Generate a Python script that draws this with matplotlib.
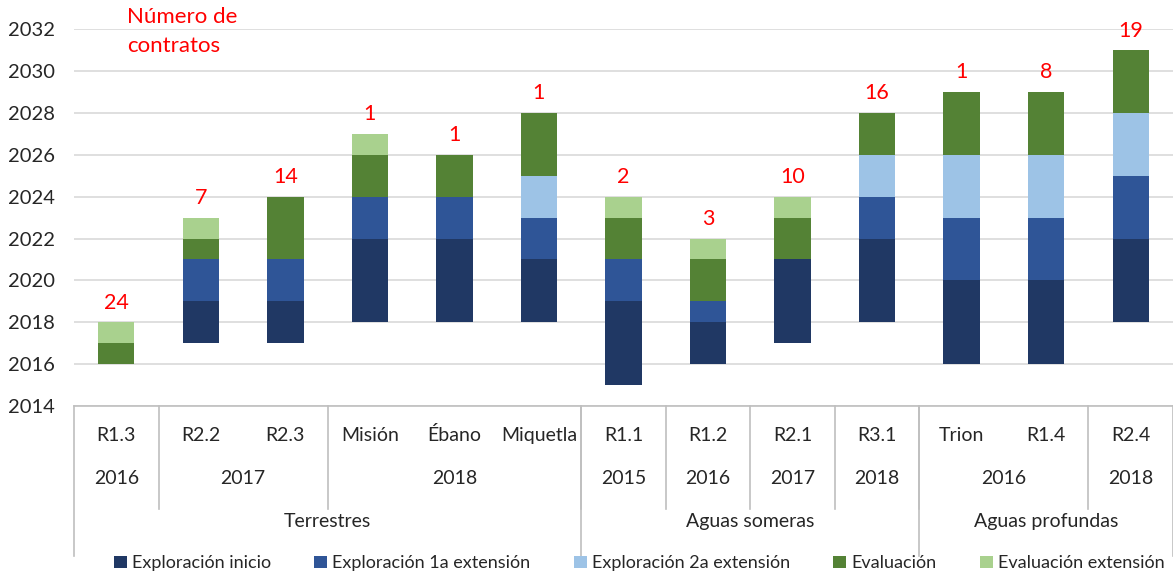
import matplotlib.pyplot as plt
import numpy as np

plt.rcParams['font.family'] = ['Lato', 'DejaVu Sans']

# contract rounds / categories
rondas = ['R1.3', 'R2.2', 'R2.3', 'Misión', 'Ébano', 'Miquetla',
          'R1.1', 'R1.2', 'R2.1', 'R3.1', 'Trion', 'R1.4', 'R2.4']
contratos = [24, 7, 14, 1, 1, 1, 2, 3, 10, 16, 1, 8, 19]

# start year of each bar
inicio = [2016, 2017, 2017, 2018, 2018, 2018, 2015, 2016, 2017, 2018, 2016, 2016, 2018]

# duration (years) of each phase
expl_inicio = [0, 2, 2, 4, 4, 3, 4, 2, 4, 4, 4, 4, 4]
expl_ext1 = [0, 2, 2, 2, 2, 2, 2, 1, 0, 2, 3, 3, 3]
expl_ext2 = [0, 0, 0, 0, 0, 2, 0, 0, 0, 2, 3, 3, 3]
evaluacion = [1, 1, 3, 2, 2, 3, 2, 2, 2, 2, 3, 3, 3]
eval_ext = [1, 1, 0, 1, 0, 0, 1, 1, 1, 0, 0, 0, 0]

fases = ['Exploración inicio', 'Exploración 1a extensión', 'Exploración 2a extensión',
         'Evaluación', 'Evaluación extensión']
colores = ['#203864', '#2F5597', '#9DC3E6', '#548235', '#A9D18E']

# x-axis groups: (label, number of categories)
anios = [('2016', 1), ('2017', 2), ('2018', 3), ('2015', 1), ('2016', 1),
         ('2017', 1), ('2018', 1), ('2016', 2), ('2018', 1)]
grupos = [('Terrestres', 6), ('Aguas someras', 4), ('Aguas profundas', 3)]

fig = plt.figure(figsize=(11.73, 5.76), dpi=100)
ax = fig.add_axes([0.0631, 0.295, 0.9369, 0.6546])

x = np.arange(len(rondas))
bottom = np.array(inicio, dtype=float)
for vals, nombre, c in zip([expl_inicio, expl_ext1, expl_ext2, evaluacion, eval_ext], fases, colores):
    ax.bar(x, vals, 0.43, bottom=bottom, color=c, label=nombre, zorder=3)
    bottom = bottom + np.array(vals)

for xi, top, n in zip(x, bottom, contratos):
    ax.text(xi, top + 0.45, str(n), ha='center', va='bottom', color='red', fontsize=15.5)

ax.set_xlim(-0.5, len(rondas) - 0.5)
ax.set_ylim(2014, 2032)
ax.set_yticks(range(2014, 2033, 2))
ax.tick_params(axis='y', length=0, labelsize=14.5, pad=14, colors='#262626')
ax.set_xticks([])
ax.grid(axis='y', color='#D9D9D9', linewidth=1.2, zorder=0)
for s in ['top', 'right', 'left']:
    ax.spines[s].set_visible(False)
ax.spines['bottom'].set_color('#BFBFBF')
ax.spines['bottom'].set_linewidth(1.2)

tr = ax.get_xaxis_transform()
line_kw = dict(color='#BFBFBF', lw=1.2, transform=tr, clip_on=False)

# category names
for xi, r in zip(x, rondas):
    ax.text(xi, -0.077, r, transform=tr, ha='center', va='center', fontsize=14, color='#262626')

# years row
pos = -0.5
for lab, n in anios:
    ax.text(pos + n / 2, -0.191, lab, transform=tr, ha='center', va='center', fontsize=14, color='#262626')
    pos += n
    if pos < len(rondas) - 0.5:
        ax.plot([pos, pos], [0, -0.273], **line_kw)

# group row
pos = -0.5
ax.plot([pos, pos], [0, -0.398], **line_kw)
for lab, n in grupos:
    ax.text(pos + n / 2, -0.305, lab, transform=tr, ha='center', va='center', fontsize=14, color='#262626')
    pos += n
    ax.plot([pos, pos], [0, -0.398], **line_kw)

fig.text(0.108, 0.988, 'Número de\ncontratos', color='red', fontsize=16,
         ha='left', va='top', linespacing=1.55)

fig.legend(loc='center', bbox_to_anchor=(0.545, 0.022), ncol=5, frameon=False,
           fontsize=13, handlelength=0.7, handleheight=0.7, handletextpad=0.3,
           columnspacing=2.4, labelcolor='#262626')

fig.savefig('out.png', dpi=100)
